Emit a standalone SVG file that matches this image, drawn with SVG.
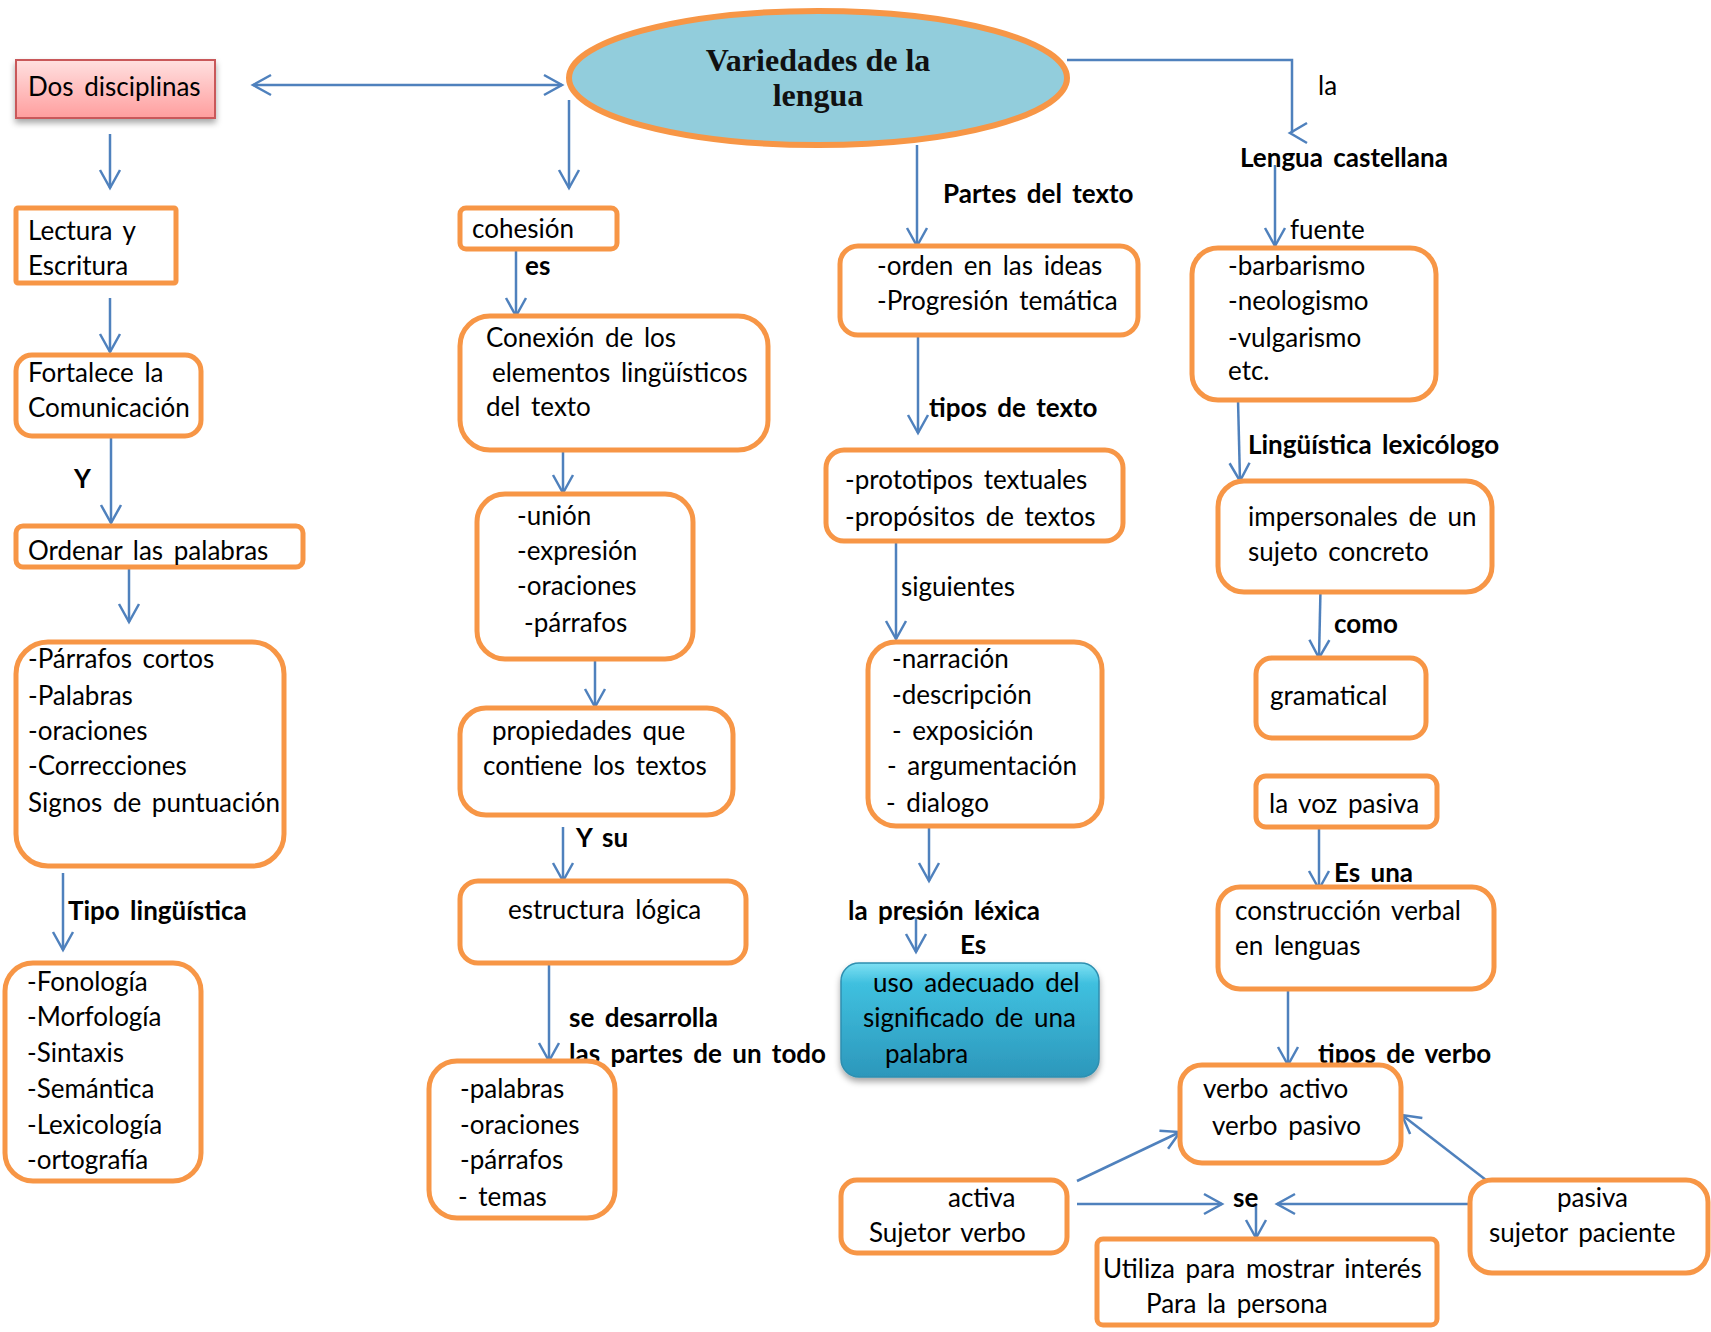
<svg xmlns="http://www.w3.org/2000/svg" width="1711" height="1332" viewBox="0 0 1711 1332">
<defs>
<style>
.box{fill:#fff;stroke:#F79646;stroke-width:5}
.t{font-family:Lato,"Liberation Sans","Noto Sans",sans-serif;font-size:26px;word-spacing:4px;fill:#000}
.b{font-weight:bold}
.c{stroke:#4F81BD;stroke-width:2.5;fill:none;marker-end:url(#ah)}
.title{font-family:"Liberation Serif","DejaVu Serif",serif;font-weight:bold;font-size:32px;fill:#111;text-anchor:middle}
</style>
<marker id="ah" viewBox="0 0 24 24" refX="20" refY="12" markerWidth="24" markerHeight="24" markerUnits="userSpaceOnUse" orient="auto-start-reverse">
<path d="M2,2 L20,12 L2,22" fill="none" stroke="#4F81BD" stroke-width="2.5"/>
</marker>
<linearGradient id="pink" x1="0" y1="0" x2="0" y2="1">
<stop offset="0" stop-color="#FFE0E0"/>
<stop offset="1" stop-color="#FF9E9E"/>
</linearGradient>
<linearGradient id="teal" x1="0" y1="0" x2="0" y2="1">
<stop offset="0" stop-color="#7EE0F3"/>
<stop offset="0.18" stop-color="#3FC0DF"/>
<stop offset="1" stop-color="#2C97BB"/>
</linearGradient>
<filter id="sh" x="-10%" y="-10%" width="120%" height="130%">
<feDropShadow dx="0" dy="4" stdDeviation="3" flood-color="#000" flood-opacity="0.35"/>
</filter>
</defs>
<rect width="1711" height="1332" fill="#fff"/>

<g id="connectors">
<path class="c" d="M253,85 H562" marker-start="url(#ah)"/>
<path class="c" d="M110,134 V188"/>
<path class="c" d="M110,298 V352"/>
<path class="c" d="M111,437 V523"/>
<path class="c" d="M129,568 V622"/>
<path class="c" d="M63,873 V950"/>
<path class="c" d="M569,100 V188"/>
<path class="c" d="M516,249 V316"/>
<path class="c" d="M563,450 V493"/>
<path class="c" d="M595,659 V707"/>
<path class="c" d="M563,827 V881"/>
<path class="c" d="M549,963 V1061"/>
<path class="c" d="M917,145 V246"/>
<path class="c" d="M918,336 V433"/>
<path class="c" d="M896,541 V639"/>
<path class="c" d="M929,826 V881"/>
<path class="c" d="M916,917 V952"/>
<path d="M1067,60 H1292 V133" stroke="#4F81BD" stroke-width="2.5" fill="none"/>
<path d="M1307,123 L1290,133 L1307,143" stroke="#4F81BD" stroke-width="2.5" fill="none"/>
<path class="c" d="M1275,165 V246"/>
<path class="c" d="M1238,400 L1240,481"/>
<path class="c" d="M1321,567 L1319,658"/>
<path class="c" d="M1319,827 V889"/>
<path class="c" d="M1288,989 V1065"/>
<path class="c" d="M1077,1181 L1180,1132"/>
<path class="c" d="M1077,1204 H1222"/>
<path class="c" d="M1471,1204 H1277"/>
<path class="c" d="M1486,1180 L1402,1115"/>
<path class="c" d="M1256,1205 V1238"/>
</g>

<g id="labels" class="t b">
<text x="74" y="488">Y</text>
<text x="68" y="920">Tipo lingüística</text>
<text x="525" y="275">es</text>
<text x="576" y="847">Y su</text>
<text x="569" y="1027">se desarrolla</text>
<text x="569" y="1063">las partes de un todo</text>
<text x="943" y="203">Partes del texto</text>
<text x="929" y="417">tipos de texto</text>
<text x="848" y="920">la presión léxica</text>
<text x="960" y="954">Es</text>
<text x="1240" y="167">Lengua castellana</text>
<text x="1248" y="454">Lingüística lexicólogo</text>
<text x="1334" y="633">como</text>
<text x="1334" y="882">Es una</text>
<text x="1318" y="1063">tipos de verbo</text>
<text x="1233" y="1207">se</text>
</g>
<g id="labels-plain" class="t">
<text x="901" y="596">siguientes</text>
<text x="1318" y="95">la</text>
<text x="1290" y="239">fuente</text>
</g>

<g id="n-variedades">
<ellipse cx="818" cy="78" rx="249" ry="67" fill="#92CDDC" stroke="#F79646" stroke-width="6"/>
<text class="title" x="818" y="71">Variedades de la</text>
<text class="title" x="818" y="106">lengua</text>
</g>

<g id="n-dos">
<rect x="16" y="60" width="199" height="58" fill="url(#pink)" stroke="#C9585A" stroke-width="2" filter="url(#sh)"/>
<text class="t" x="28" y="96">Dos disciplinas</text>
</g>

<g id="n-lectura">
<rect class="box" x="16" y="208" width="160" height="75" rx="2"/>
<text class="t" x="28" y="240">Lectura y</text>
<text class="t" x="28" y="275">Escritura</text>
</g>

<g id="n-fortalece">
<rect class="box" x="16" y="355" width="185" height="81" rx="16"/>
<text class="t" x="28" y="382">Fortalece la</text>
<text class="t" x="28" y="417">Comunicación</text>
</g>

<g id="n-ordenar">
<rect class="box" x="16" y="526" width="287" height="41" rx="7"/>
<text class="t" x="28" y="560">Ordenar las palabras</text>
</g>

<g id="n-parrafos">
<rect class="box" x="16" y="642" width="268" height="224" rx="32"/>
<text class="t" x="28" y="668">-Párrafos cortos</text>
<text class="t" x="28" y="705">-Palabras</text>
<text class="t" x="28" y="740">-oraciones</text>
<text class="t" x="28" y="775">-Correcciones</text>
<text class="t" x="28" y="812">Signos de puntuación</text>
</g>

<g id="n-fonologia">
<rect class="box" x="5" y="963" width="196" height="218" rx="28"/>
<text class="t" x="27" y="991">-Fonología</text>
<text class="t" x="27" y="1026">-Morfología</text>
<text class="t" x="27" y="1062">-Sintaxis</text>
<text class="t" x="27" y="1098">-Semántica</text>
<text class="t" x="27" y="1134">-Lexicología</text>
<text class="t" x="27" y="1169">-ortografía</text>
</g>

<g id="n-cohesion">
<rect class="box" x="460" y="208" width="157" height="41" rx="6"/>
<text class="t" x="472" y="238">cohesión</text>
</g>

<g id="n-conexion">
<rect class="box" x="460" y="316" width="308" height="134" rx="30"/>
<text class="t" x="486" y="347">Conexión de los</text>
<text class="t" x="492" y="382">elementos lingüísticos</text>
<text class="t" x="486" y="416">del texto</text>
</g>

<g id="n-union">
<rect class="box" x="477" y="494" width="216" height="165" rx="28"/>
<text class="t" x="517" y="525">-unión</text>
<text class="t" x="517" y="560">-expresión</text>
<text class="t" x="517" y="595">-oraciones</text>
<text class="t" x="524" y="632">-párrafos</text>
</g>

<g id="n-propiedades">
<rect class="box" x="460" y="708" width="273" height="107" rx="26"/>
<text class="t" x="492" y="740">propiedades que</text>
<text class="t" x="483" y="775">contiene los textos</text>
</g>

<g id="n-estructura">
<rect class="box" x="460" y="881" width="286" height="82" rx="18"/>
<text class="t" x="508" y="919">estructura lógica</text>
</g>

<g id="n-palabras">
<rect class="box" x="429" y="1061" width="186" height="157" rx="28"/>
<text class="t" x="460" y="1098">-palabras</text>
<text class="t" x="460" y="1134">-oraciones</text>
<text class="t" x="460" y="1169">-párrafos</text>
<text class="t" x="458" y="1206">- temas</text>
</g>

<g id="n-orden">
<rect class="box" x="840" y="246" width="298" height="89" rx="18"/>
<text class="t" x="877" y="275">-orden en las ideas</text>
<text class="t" x="877" y="310">-Progresión temática</text>
</g>

<g id="n-prototipos">
<rect class="box" x="826" y="450" width="297" height="91" rx="18"/>
<text class="t" x="845" y="489">-prototipos textuales</text>
<text class="t" x="845" y="526">-propósitos de textos</text>
</g>

<g id="n-narracion">
<rect class="box" x="868" y="642" width="234" height="184" rx="28"/>
<text class="t" x="892" y="668">-narración</text>
<text class="t" x="892" y="704">-descripción</text>
<text class="t" x="892" y="740">- exposición</text>
<text class="t" x="887" y="775">- argumentación</text>
<text class="t" x="886" y="812">- dialogo</text>
</g>

<g id="n-uso">
<rect x="841" y="963" width="258" height="114" rx="18" fill="url(#teal)" stroke="#2E8FB0" stroke-width="1.5" filter="url(#sh)"/>
<text class="t" x="873" y="992">uso adecuado del</text>
<text class="t" x="863" y="1027">significado de una</text>
<text class="t" x="885" y="1063">palabra</text>
</g>

<g id="n-barbarismo">
<rect class="box" x="1192" y="248" width="244" height="152" rx="26"/>
<text class="t" x="1228" y="275">-barbarismo</text>
<text class="t" x="1228" y="310">-neologismo</text>
<text class="t" x="1228" y="347">-vulgarismo</text>
<text class="t" x="1228" y="380">etc.</text>
</g>

<g id="n-impersonales">
<rect class="box" x="1218" y="481" width="274" height="111" rx="26"/>
<text class="t" x="1248" y="526">impersonales de un</text>
<text class="t" x="1248" y="561">sujeto concreto</text>
</g>

<g id="n-gramatical">
<rect class="box" x="1256" y="658" width="170" height="80" rx="16"/>
<text class="t" x="1270" y="705">gramatical</text>
</g>

<g id="n-vozpasiva">
<rect class="box" x="1256" y="776" width="181" height="51" rx="10"/>
<text class="t" x="1269" y="813">la voz pasiva</text>
</g>

<g id="n-construccion">
<rect class="box" x="1218" y="887" width="276" height="102" rx="22"/>
<text class="t" x="1235" y="920">construcción verbal</text>
<text class="t" x="1235" y="955">en lenguas</text>
</g>

<g id="n-verbo">
<rect class="box" x="1180" y="1065" width="221" height="98" rx="22"/>
<text class="t" x="1203" y="1098">verbo activo</text>
<text class="t" x="1212" y="1135">verbo pasivo</text>
</g>

<g id="n-activa">
<rect class="box" x="841" y="1180" width="226" height="73" rx="16"/>
<text class="t" x="948" y="1207">activa</text>
<text class="t" x="869" y="1242">Sujetor verbo</text>
</g>

<g id="n-pasiva">
<rect class="box" x="1470" y="1180" width="238" height="93" rx="22"/>
<text class="t" x="1557" y="1207">pasiva</text>
<text class="t" x="1489" y="1242">sujetor paciente</text>
</g>

<g id="n-utiliza">
<rect class="box" x="1097" y="1239" width="340" height="86" rx="6"/>
<text class="t" x="1103" y="1278">Utiliza para mostrar interés</text>
<text class="t" x="1146" y="1313">Para la persona</text>
</g>
</svg>
